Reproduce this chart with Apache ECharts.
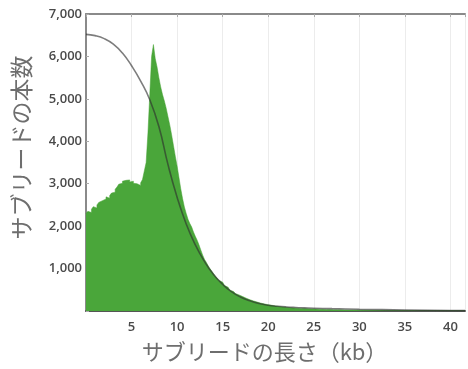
<!DOCTYPE html>
<html>
<head>
<meta charset="utf-8">
<script src="https://cdn.jsdelivr.net/npm/echarts@6/dist/echarts.min.js"></script>
<style>
  html, body { margin: 0; padding: 0; background: #fff; }
  #main { width: 468px; height: 369px; }
</style>
</head>
<body>
<div id="main"></div>
<script>
// histogram: subread counts per 0.2 kb bin, starting at 0 kb
const binStart = 0
const binWidth = 0.2
const counts = [
  2300, 2350, 2320, 2400, 2460, 2430, 2500, 2560, 2600, 2580,
  2640, 2690, 2660, 2720, 2780, 2800, 2870, 2920, 2990, 3010,
  3060, 3080, 3050, 3090, 3040, 3060, 3010, 3000, 2980, 2960,
  3020, 3100, 3300, 3500, 4200, 5100, 6000, 6280, 5950, 5750,
  5500, 5280, 5100, 4950, 4780, 4580, 4380, 4150, 3900, 3650,
  3420, 3150, 2880, 2650, 2450, 2300, 2160, 2060, 1980, 1860,
  1760, 1670, 1560, 1440, 1320, 1220, 1150, 1070, 1000, 940,
  880, 820, 770, 720, 680, 640, 600, 560, 520, 490,
  460, 430, 410, 380, 360, 340, 320, 300, 280, 265,
  250, 235, 220, 210, 195, 185, 175, 165, 155, 148,
  140, 135, 128, 120, 112, 105, 100, 95, 90, 86,
  82, 78, 75, 72, 69, 66, 63, 61, 58, 56,
  54, 52, 50, 48, 46, 45, 43, 42, 40, 39,
  38, 36, 35, 34, 33, 32, 31, 30, 29, 28,
  27, 26, 25, 24, 24, 23, 22, 22, 21, 20,
  20, 19, 19, 18, 18, 17, 17, 16, 16, 15,
  15, 15, 14, 14, 13, 13, 13, 12, 12, 12,
  11, 11, 11, 10, 10, 10, 10, 9, 9, 9,
  9, 8, 8, 8, 8, 8, 7, 7, 7, 7,
  7, 7, 6, 6, 6, 6, 6, 6, 6, 5,
  5, 5, 5, 5, 5, 5, 5, 5
]

// fitted curve (gray line)
const curveKb   = [0, 1, 2, 3, 4, 5, 6, 7, 8, 9, 10, 11, 12, 13, 14, 15, 16, 17, 18, 19, 20, 21, 22, 23, 24, 25, 27, 30, 35, 40, 41.6]
const curveVals = [6520, 6490, 6420, 6290, 6080, 5780, 5420, 4980, 4350, 3450, 2680, 2050, 1560, 1170, 860, 630, 450, 325, 240, 175, 135, 112, 95, 83, 74, 66, 55, 42, 24, 12, 10]

const xMax = 41.6
const yMax = 7000

const histData = counts.map((c, i) => [+(binStart + i * binWidth).toFixed(1), c])
histData.push([xMax, counts[counts.length - 1]])

const numFont = "'Open Sans', 'Noto Sans', sans-serif"
const jpFont = "'Noto Sans CJK JP', sans-serif"

const chart = echarts.init(document.getElementById('main'))
chart.setOption({
  animation: false,
  grid: { left: 86, right: 2, top: 14, bottom: 58 },
  xAxis: [
    {
      type: 'value',
      min: 0,
      max: xMax,
      interval: 5,
      name: 'サブリードの長さ（kb）',
      nameLocation: 'middle',
      nameGap: 30,
      nameTextStyle: { fontFamily: jpFont, fontSize: 22, color: '#6e6e6e', padding: [0, 22, 0, 0] },
      axisLine: { show: true, lineStyle: { color: '#555', width: 2 } },
      axisTick: { show: false },
      axisLabel: {
        margin: 10,
        fontFamily: numFont, fontSize: 13, fontWeight: 600, color: '#4a4a4a',
        formatter: v => (v > 0 && v % 5 === 0) ? String(v) : ''
      },
      splitLine: { show: true, lineStyle: { color: '#ececec', width: 1 } }
    },
    {
      type: 'value',
      position: 'top',
      min: 0,
      max: xMax,
      interval: 5,
      axisLine: { show: true, lineStyle: { color: '#8a8a8a', width: 2 } },
      axisTick: { show: true, inside: true, length: 3, lineStyle: { color: '#aaa' } },
      axisLabel: { show: false },
      splitLine: { show: false }
    }
  ],
  yAxis: {
    type: 'value',
    min: 0,
    max: yMax,
    interval: 1000,
    name: 'サブリードの本数',
    nameLocation: 'middle',
    nameGap: 53,
    nameTextStyle: { fontFamily: jpFont, fontSize: 23, color: '#6e6e6e', padding: [0, 0, 0, 30] },
    axisLine: { show: true, lineStyle: { color: '#8a8a8a', width: 2 } },
    axisTick: { show: true, inside: true, length: 3, lineStyle: { color: '#aaa' } },
    axisLabel: {
      margin: 4,
      fontFamily: numFont, fontSize: 13, fontWeight: 600, color: '#4a4a4a',
      formatter: v => v === 0 ? '' : v.toLocaleString('en-US')
    },
    splitLine: { show: false }
  },
  series: [
    {
      name: 'hist',
      type: 'line',
      step: 'end',
      symbol: 'none',
      data: histData,
      lineStyle: { width: 0.5, color: '#46a335' },
      areaStyle: { color: '#4aa63a', opacity: 1 }
    },
    {
      name: 'fit',
      type: 'line',
      smooth: true,
      symbol: 'none',
      data: curveKb.map((k, i) => [k, curveVals[i]]),
      lineStyle: { width: 1.6, color: 'rgba(45,45,45,0.62)' },
      z: 3
    }
  ]
})
</script>
</body>
</html>
